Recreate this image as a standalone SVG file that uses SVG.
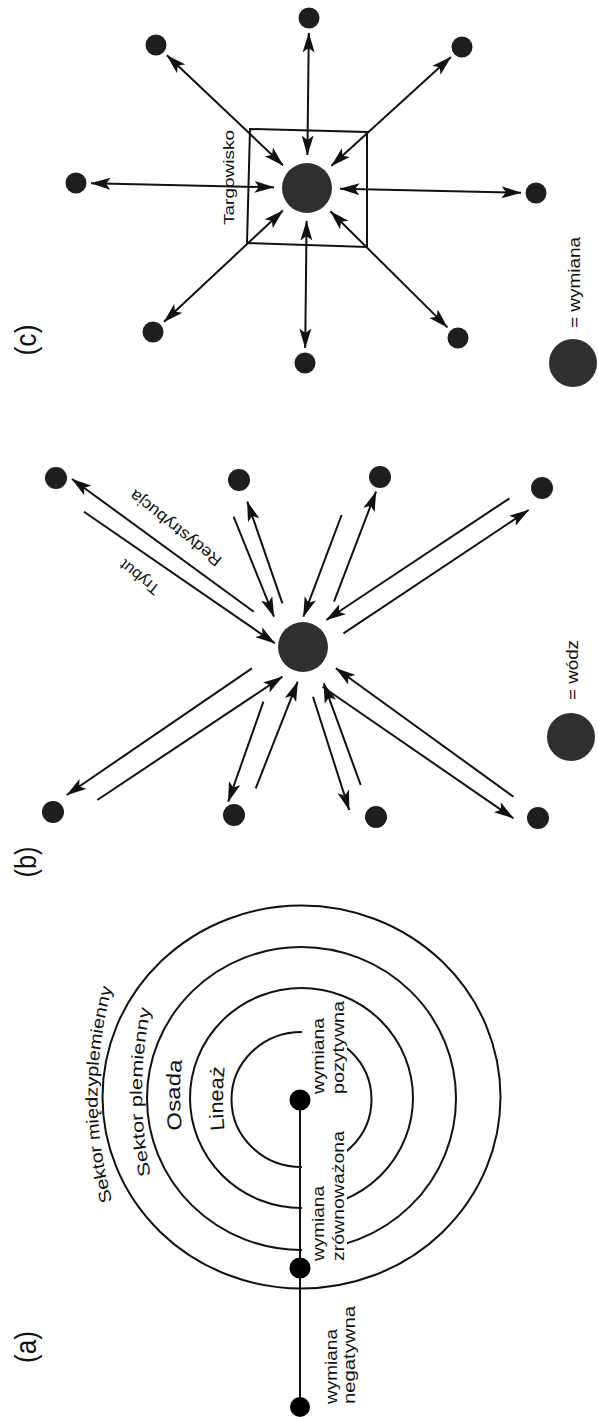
<svg xmlns="http://www.w3.org/2000/svg" width="598" height="1418" viewBox="0 0 598 1418">
<style>
.ln{stroke:#111;stroke-width:2;fill:none}
.ring{stroke:#111;stroke-width:2;fill:none}
.dot{fill:#1e1e1e}
.big{fill:#2f2f2f}
.t{font-family:"Liberation Sans",Arial,sans-serif;fill:#111}
.lab{font-family:"Liberation Sans",Arial,sans-serif;fill:#111;font-size:29px}
</style>
<defs>
<marker id="ah" viewBox="0 0 20 13" refX="19.5" refY="6.5" markerWidth="20" markerHeight="13" markerUnits="userSpaceOnUse" orient="auto-start-reverse">
<path d="M0,0.5 L20,6.5 L0,12.5 L4.5,6.5 Z" fill="#111"/>
</marker>
<path id="pSM" d="M116.3,1214.5 A393,393 0 0 1 116.3,974.5"/>
<path id="pSP" d="M154.7,1192 A400,400 0 0 1 154.7,992"/>
<path id="pOS" d="M184.2,1145 A300,300 0 0 1 184.2,1045"/>
<path id="pLI" d="M227.2,1148.5 A300,300 0 0 1 227.2,1048.5"/>
</defs>
<rect width="598" height="1418" fill="#fff"/>

<!-- ===== (c) ===== -->
<g id="c-label"><text class="lab" x="36" y="340" text-anchor="middle" transform="rotate(-90 36 340)" textLength="31" lengthAdjust="spacingAndGlyphs">(c)</text></g>
<g id="c-market">
<polygon points="250,129 367,132 367,247 247,243" class="ln"/>
<text class="t" x="233.5" y="225" font-size="15.5" transform="rotate(-90 233.5 225)" textLength="95" lengthAdjust="spacingAndGlyphs">Targowisko</text>
</g>
<g id="c-center"><circle cx="307" cy="188" r="25" class="big"/></g>
<g id="c-dots">
<circle id="c-n1" cx="309" cy="18" r="10.5" class="dot"/>
<circle id="c-n2" cx="156" cy="45" r="10.5" class="dot"/>
<circle id="c-n3" cx="462" cy="47" r="10.5" class="dot"/>
<circle id="c-n4" cx="76" cy="183" r="10.5" class="dot"/>
<circle id="c-n5" cx="536" cy="193" r="10.5" class="dot"/>
<circle id="c-n6" cx="153" cy="332" r="10.5" class="dot"/>
<circle id="c-n7" cx="305" cy="363" r="10.5" class="dot"/>
<circle id="c-n8" cx="458" cy="338" r="10.5" class="dot"/>
</g>
<g id="c-legend">
<circle cx="573" cy="363" r="24" class="big"/>
<text class="t" x="580" y="328" font-size="16" transform="rotate(-90 580 328)" textLength="91" lengthAdjust="spacingAndGlyphs">= wymiana</text>
</g>
<g id="c-connectors" marker-start="url(#ah)" marker-end="url(#ah)">
<line class="ln" x1="308.8" y1="33" x2="307.4" y2="155"/>
<line class="ln" x1="166.9" y1="55.3" x2="283" y2="165.3"/>
<line class="ln" x1="450.9" y1="57.1" x2="331.4" y2="165.8"/>
<line class="ln" x1="91" y1="183.3" x2="274" y2="187.3"/>
<line class="ln" x1="521" y1="192.7" x2="340" y2="188.7"/>
<line class="ln" x1="164" y1="321.8" x2="282.9" y2="210.5"/>
<line class="ln" x1="305.2" y1="348" x2="306.6" y2="221"/>
<line class="ln" x1="447.4" y1="327.4" x2="330.4" y2="211.3"/>
</g>

<!-- ===== (b) ===== -->
<g id="b-label"><text class="lab" x="36" y="862" text-anchor="middle" transform="rotate(-90 36 862)" textLength="31" lengthAdjust="spacingAndGlyphs">(b)</text></g>
<g id="b-chief"><circle cx="303" cy="647" r="25" class="big"/></g>
<g id="b-dots">
<circle id="b-n1" cx="56" cy="478" r="11" class="dot"/>
<circle id="b-n2" cx="239" cy="480" r="11" class="dot"/>
<circle id="b-n3" cx="380" cy="477" r="11" class="dot"/>
<circle id="b-n4" cx="542" cy="488" r="11" class="dot"/>
<circle id="b-n5" cx="53" cy="812" r="11" class="dot"/>
<circle id="b-n6" cx="234" cy="815" r="11" class="dot"/>
<circle id="b-n7" cx="376" cy="817" r="11" class="dot"/>
<circle id="b-n8" cx="538" cy="818" r="11" class="dot"/>
</g>
<g id="b-legend">
<circle cx="571" cy="737" r="24" class="big"/>
<text class="t" x="578" y="700" font-size="16" transform="rotate(-90 578 700)" textLength="60" lengthAdjust="spacingAndGlyphs">= wódz</text>
</g>
<g id="b-connectors" marker-end="url(#ah)">
<line class="ln" x1="253.8" y1="611.7" x2="72" y2="479"/>
<line class="ln" x1="84" y1="511.7" x2="274.8" y2="643.3"/>
<line class="ln" x1="282.4" y1="603.3" x2="247.3" y2="501.7"/>
<line class="ln" x1="233.6" y1="516.7" x2="274" y2="616.7"/>
<line class="ln" x1="334" y1="601.7" x2="376" y2="491.7"/>
<line class="ln" x1="341.6" y1="515" x2="303.4" y2="616.7"/>
<line class="ln" x1="509.5" y1="498.3" x2="326.3" y2="620"/>
<line class="ln" x1="343.5" y1="633.3" x2="528.6" y2="510"/>
<line class="ln" x1="251.9" y1="668.3" x2="66.8" y2="795"/>
<line class="ln" x1="97.3" y1="800" x2="282.4" y2="676.7"/>
<line class="ln" x1="263.4" y1="701.7" x2="228.2" y2="801.7"/>
<line class="ln" x1="255.7" y1="788.3" x2="297.7" y2="681.7"/>
<line class="ln" x1="313" y1="696.7" x2="349.2" y2="810"/>
<line class="ln" x1="360.7" y1="785" x2="323.7" y2="683.3"/>
<line class="ln" x1="322.5" y1="686.7" x2="513.4" y2="818.3"/>
<line class="ln" x1="513.4" y1="796.7" x2="335.9" y2="668.3"/>
</g>
<g id="b-flow-labels">
<text class="t" x="179" y="524" font-size="16" text-anchor="middle" transform="rotate(218.5 179 524)" textLength="112" lengthAdjust="spacingAndGlyphs">Redystrybucja</text>
<text class="t" x="143" y="573" font-size="16" text-anchor="middle" transform="rotate(218.5 143 573)" textLength="46" lengthAdjust="spacingAndGlyphs">Trybut</text>
</g>

<!-- ===== (a) ===== -->
<g id="a-label"><text class="lab" x="36" y="1347" text-anchor="middle" transform="rotate(-90 36 1347)" textLength="32" lengthAdjust="spacingAndGlyphs">(a)</text></g>
<g id="a-rings">
<ellipse cx="301.5" cy="1097" rx="199" ry="191.5" class="ring"/>
<ellipse cx="301.5" cy="1098.5" rx="154.5" ry="151.5" class="ring"/>
<ellipse cx="301.5" cy="1098" rx="111.5" ry="110" class="ring"/>
<ellipse cx="301.5" cy="1099.5" rx="70" ry="67.5" class="ring"/>
<rect x="302" y="1000" width="45" height="95" fill="#fff"/>
<rect x="302" y="1128" width="45" height="134" fill="#fff"/>
</g>
<g id="a-ring-labels">
<text class="t" font-size="17"><textPath href="#pSM" startOffset="50%" text-anchor="middle" textLength="216" lengthAdjust="spacingAndGlyphs">Sektor międzyplemienny</textPath></text>
<text class="t" font-size="17"><textPath href="#pSP" startOffset="50%" text-anchor="middle" textLength="168" lengthAdjust="spacingAndGlyphs">Sektor plemienny</textPath></text>
<text class="t" font-size="20"><textPath href="#pOS" startOffset="50%" text-anchor="middle" textLength="70" lengthAdjust="spacingAndGlyphs">Osada</textPath></text>
<text class="t" font-size="20"><textPath href="#pLI" startOffset="50%" text-anchor="middle" textLength="63" lengthAdjust="spacingAndGlyphs">Lineaż</textPath></text>
</g>
<g id="a-connectors"><line class="ln" x1="300" y1="1100" x2="300" y2="1407"/></g>
<g id="a-n1"><circle cx="300" cy="1100" r="10.5" fill="#000"/>
<text class="t" font-size="16" transform="rotate(-90 323.5 1094)"><tspan x="323.5" y="1094" textLength="76" lengthAdjust="spacingAndGlyphs">wymiana</tspan></text>
<text class="t" font-size="16" transform="rotate(-90 343.5 1094)"><tspan x="343.5" y="1094" textLength="93" lengthAdjust="spacingAndGlyphs">pozytywna</tspan></text>
</g>
<g id="a-n2"><circle cx="300" cy="1268" r="10.5" fill="#000"/>
<text class="t" font-size="16" transform="rotate(-90 323.5 1261)"><tspan x="323.5" y="1261" textLength="75" lengthAdjust="spacingAndGlyphs">wymiana</tspan></text>
<text class="t" font-size="16" transform="rotate(-90 343.5 1261)"><tspan x="343.5" y="1261" textLength="130" lengthAdjust="spacingAndGlyphs">zrównoważona</tspan></text>
</g>
<g id="a-n3"><circle cx="300" cy="1407" r="10" fill="#000"/>
<text class="t" font-size="16" transform="rotate(-90 336.5 1404)"><tspan x="336.5" y="1404" textLength="75" lengthAdjust="spacingAndGlyphs">wymiana</tspan></text>
<text class="t" font-size="16" transform="rotate(-90 354.5 1404)"><tspan x="354.5" y="1404" textLength="98" lengthAdjust="spacingAndGlyphs">negatywna</tspan></text>
</g>
</svg>
